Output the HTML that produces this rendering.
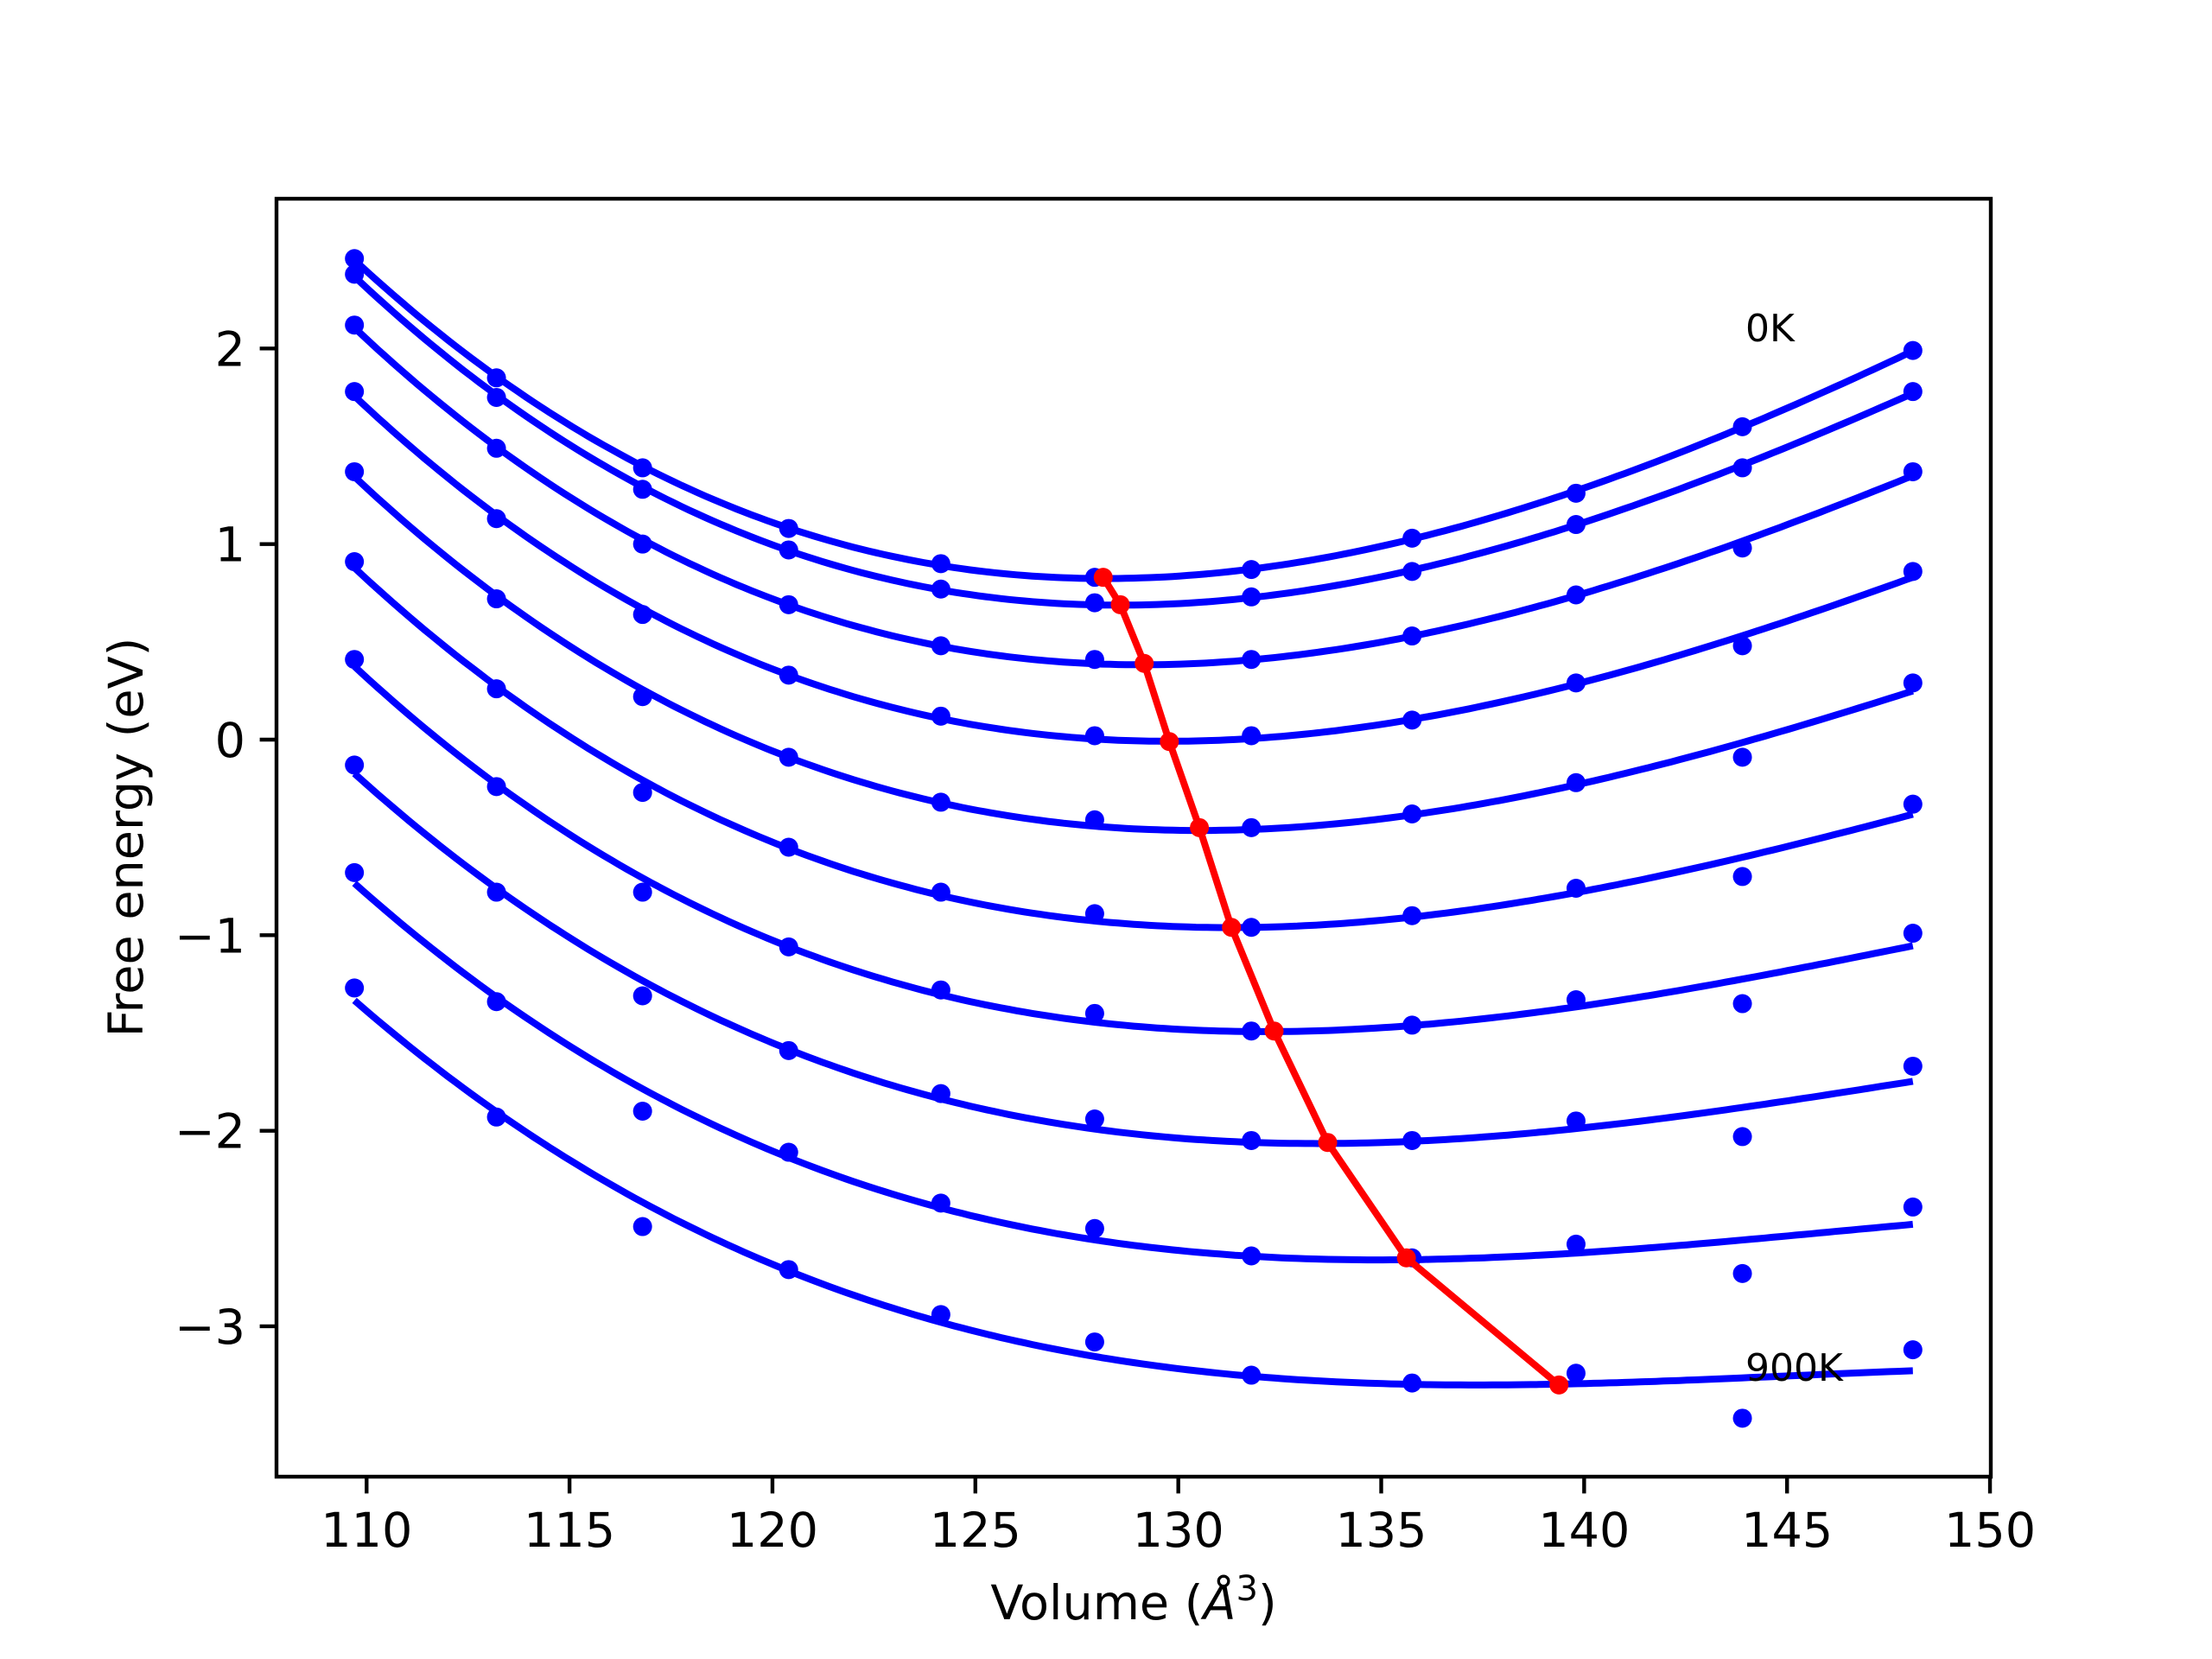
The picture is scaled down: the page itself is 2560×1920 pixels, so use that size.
<!DOCTYPE html>
<html><head><meta charset="utf-8"><style>
html,body{margin:0;padding:0;background:#fff;}
svg{display:block;font-family:"DejaVu Sans","Liberation Sans",sans-serif;}
</style></head><body>
<svg id="chart" width="2560" height="1920" viewBox="0 0 2560 1920" xmlns="http://www.w3.org/2000/svg">
<rect width="2560" height="1920" fill="#fff"/>
<g id="plot"></g>
<rect x="320" y="230" width="1984" height="1479" fill="none" stroke="#000" stroke-width="4.4"/>
<g id="xt"></g>
<g id="yt"></g>
<text x="1312" y="1874" font-size="55.6" text-anchor="middle">Volume (<tspan font-style="italic">Å</tspan><tspan font-size="40" dy="-22">3</tspan><tspan dy="22">)</tspan></text>
<text transform="translate(165,969) rotate(-90)" font-size="55.6" text-anchor="middle">Free energy (eV)</text>
<text x="2020" y="395" font-size="44">0K</text>
<text x="2020" y="1598" font-size="44">900K</text>
</svg>
<script>
const volumes=[109.7,113.2,116.8,120.4,124.15,127.94,131.8,135.76,139.8,143.9,148.1];
const e0=[2.46,1.85,1.39,1.08,0.90,0.83,0.87,1.03,1.26,1.60,1.99];
const e1=[2.38,1.75,1.28,0.97,0.77,0.70,0.73,0.86,1.10,1.39,1.78];
const e2=[2.12,1.49,1.00,0.69,0.48,0.41,0.41,0.53,0.74,0.98,1.37];
const e3=[1.78,1.13,0.64,0.33,0.12,0.02,0.02,0.10,0.29,0.48,0.86];
const e4=[1.37,0.72,0.22,-0.09,-0.32,-0.41,-0.45,-0.38,-0.22,-0.09,0.29];
const e5=[0.91,0.26,-0.27,-0.55,-0.78,-0.89,-0.96,-0.90,-0.76,-0.70,-0.33];
const e6=[0.41,-0.24,-0.78,-1.06,-1.28,-1.40,-1.49,-1.46,-1.33,-1.35,-0.99];
const e7=[-0.13,-0.78,-1.31,-1.59,-1.81,-1.94,-2.05,-2.05,-1.95,-2.03,-1.67];
const e8=[-0.68,-1.34,-1.90,-2.11,-2.37,-2.50,-2.64,-2.65,-2.58,-2.73,-2.39];
const e9=[-1.27,-1.93,-2.49,-2.71,-2.94,-3.08,-3.25,-3.29,-3.24,-3.47,-3.12];
const series=[e0,e1,e2,e3,e4,e5,e6,e7,e8,e9];
const minVol=[128.15,128.57,129.16,129.78,130.52,131.31,132.36,133.68,135.62,139.38];
const minE=[0.83,0.69,0.39,-0.01,-0.45,-0.96,-1.49,-2.06,-2.65,-3.30];
const xTicks=[110,115,120,125,130,135,140,145,150];
const yTicks=[-3,-2,-1,0,1,2];
const yTickLabels=["\u22123","\u22122","\u22121","0","1","2"];

const NS="http://www.w3.org/2000/svg";
const X0=107.78,X1=150.02,Y0=-3.769,Y1=2.766;
const L=320,R=2304,T=230,B=1709;
function sx(v){return L+(v-X0)/(X1-X0)*(R-L);}
function sy(v){return B-(v-Y0)/(Y1-Y0)*(B-T);}
function mk(tag,attrs,parent){const e=document.createElementNS(NS,tag);for(const k in attrs)e.setAttribute(k,attrs[k]);parent.appendChild(e);return e;}
const plot=document.getElementById('plot');

function fitCubic(xs,ys){
  const m=xs.reduce((a,b)=>a+b,0)/xs.length;
  const n=4;const A=[];const bv=[];
  for(let i=0;i<n;i++){A.push(new Array(n).fill(0));bv.push(0);}
  xs.forEach((x,k)=>{const t=(x-m)/10;const p=[1,t,t*t,t*t*t];
    for(let i=0;i<n;i++){bv[i]+=p[i]*ys[k];for(let j=0;j<n;j++)A[i][j]+=p[i]*p[j];}});
  for(let i=0;i<n;i++){let mx=i;for(let r=i+1;r<n;r++)if(Math.abs(A[r][i])>Math.abs(A[mx][i]))mx=r;
    [A[i],A[mx]]=[A[mx],A[i]];[bv[i],bv[mx]]=[bv[mx],bv[i]];
    for(let r=i+1;r<n;r++){const f=A[r][i]/A[i][i];for(let c=i;c<n;c++)A[r][c]-=f*A[i][c];bv[r]-=f*bv[i];}}
  const c=new Array(n).fill(0);
  for(let i=n-1;i>=0;i--){let s=bv[i];for(let j=i+1;j<n;j++)s-=A[i][j]*c[j];c[i]=s/A[i][i];}
  return x=>{const t=(x-m)/10;return c[0]+c[1]*t+c[2]*t*t+c[3]*t*t*t;};
}

series.forEach((ys,si)=>{
  const f=fitCubic(volumes,ys);
  const v0=volumes[0],v1=volumes[volumes.length-1];
  let d="";
  for(let i=0;i<=200;i++){const v=v0+(v1-v0)*i/200;d+=(i?"L":"M")+sx(v).toFixed(1)+","+sy(f(v)).toFixed(1);}
  const p=mk('path',{d:d,fill:"none",stroke:"#0000ff","stroke-width":8},plot);
  
  
  volumes.forEach((v,k)=>{
    const c=mk('circle',{cx:sx(v),cy:sy(ys[k]),r:11,fill:"#0000ff"},plot);
    
    
  });
});
let rd="";
minVol.forEach((v,k)=>{rd+=(k?"L":"M")+sx(v).toFixed(1)+","+sy(minE[k]).toFixed(1);});
const rl=mk('path',{d:rd,fill:"none",stroke:"#ff0000","stroke-width":8},plot);


minVol.forEach((v,k)=>{
  const c=mk('circle',{cx:sx(v),cy:sy(minE[k]),r:11,fill:"#ff0000"},plot);
  
  
});

const xt=document.getElementById('xt');
xTicks.forEach(t=>{
  const x=sx(t);
  const l=mk('line',{x1:x,x2:x,y1:B,y2:B+19.4,stroke:"#000","stroke-width":4.4},xt);
  
  
  const tx=mk('text',{x:x,y:B+81,"font-size":55.6,"text-anchor":"middle"},xt);
  tx.textContent=t;
  
  
});
const yt=document.getElementById('yt');
yTicks.forEach((t,i)=>{
  const y=sy(t);
  const l=mk('line',{x1:L-19.4,x2:L,y1:y,y2:y,stroke:"#000","stroke-width":4.4},yt);
  
  
  const tx=mk('text',{x:L-36,y:y+20,"font-size":55.6,"text-anchor":"end"},yt);
  tx.textContent=yTickLabels[i];
  
  
});
</script>
</body></html>
